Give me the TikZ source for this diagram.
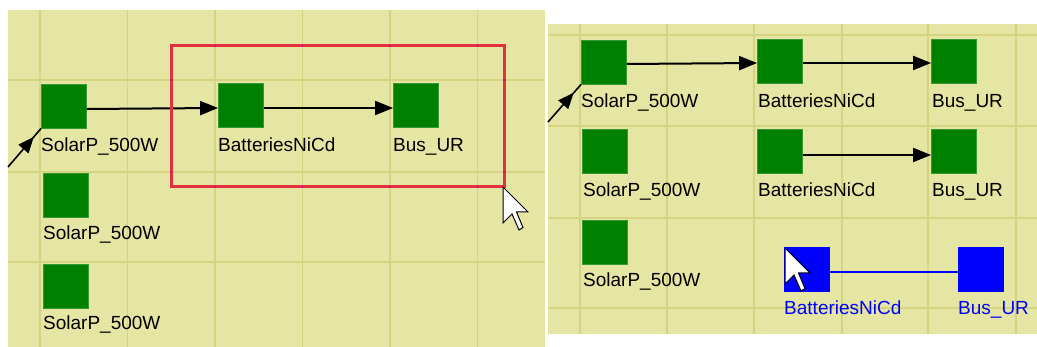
\documentclass[tikz,border=0pt]{standalone}
\usepackage{fontspec}
\setmainfont{Liberation Sans}
\usetikzlibrary{arrows.meta,decorations.markings}
\definecolor{paper}{RGB}{229,229,164}
\definecolor{gridc}{RGB}{214,212,128}
\definecolor{modgreen}{RGB}{0,128,0}
\definecolor{selred}{RGB}{226,48,60}
\newcommand{\lbl}{\fontsize{19}{21}\selectfont}
% mouse pointer with its tip at #1
\newcommand{\pointer}[1]{%
  \draw[cursor] (#1) -- ++(0,36) -- ++(9,-9) -- ++(7,16) -- ++(4,-2.5)
    -- ++(-6.5,-15.5) -- ++(11.5,0) -- cycle;}

\begin{document}
\begin{tikzpicture}[x=1pt,y=-1pt,
   blk/.style={fill=modgreen,draw=modgreen!80!white,line width=0.8pt,
               minimum width=45pt,minimum height=44pt,inner sep=0pt},
   sel/.style={blk,fill=blue,draw=blue},
   tag/.style={anchor=base west,inner sep=0pt,font=\lbl},
   flow/.style={line width=2pt,-{Triangle[length=18pt,width=14pt]}},
   wire/.style={line width=2pt,blue},
   feed/.style={line width=1.6pt,postaction={decorate},
                decoration={markings,mark=at position 0.78 with
                {\arrow{Triangle[length=16pt,width=13pt]}}}},
   gridln/.style={gridc,line width=1.8pt},
   selbox/.style={draw=selred,line width=3pt},
   cursor/.style={fill=white,draw=black,line width=1pt,line join=miter}]
   \useasboundingbox (0,0) rectangle (1037,347);
   \fill[white] (0,0) rectangle (1037,347);

   % left screen: drag selection
   \fill[paper] (8,10) rectangle (545,347);
   \begin{scope}
    \clip (8,10) rectangle (545,347);
    \foreach \x in {40,127.5,215,302.5,390,477.5}
      \draw[gridln] (\x,10) -- (\x,347);
    \foreach \y in {80,172,262}
      \draw[gridln] (8,\y) -- (545,\y);
   \end{scope}

   \node[blk] (solA) at (64,106) {};
   \node[blk] (solB) at (66,195) {};
   \node[blk] (solC) at (66,286) {};
   \node[blk] (batA) at (241,105) {};
   \node[blk] (busA) at (416,105) {};
   \node[tag] (solAt) at (41,152) {SolarP\_500W};
   \node[tag] (solBt) at (43,240) {SolarP\_500W};
   \node[tag] (solCt) at (43,330) {SolarP\_500W};
   \node[tag] (batAt) at (218,152) {BatteriesNiCd};
   \node[tag] (busAt) at (393,152) {Bus\_UR};

   \coordinate (inA) at (8,167);
   \draw[feed] (inA) -- (solA.south west);
   \draw[flow] ([yshift=-3pt]solA.east) -- ([yshift=-3pt]batA.west);
   \draw[flow] ([yshift=-3pt]batA.east) -- ([yshift=-3pt]busA.west);

   \draw[selbox] (171,46) rectangle (504,187);
   \foreach \x in {215,302.5,390,477.5} {
     \fill[magenta] (\x,46) circle (1.2);
     \fill[magenta] (\x,187) circle (1.2);
   }
   \foreach \y in {80,172} {
     \fill[magenta] (171,\y) circle (1.2);
     \fill[magenta] (504,\y) circle (1.2);
   }
   \coordinate (ptrA) at (503,187);
   \pointer{ptrA}

   % right screen: copies pasted
   \fill[paper] (548,24) rectangle (1037,334);
   \begin{scope}
    \clip (548,24) rectangle (1037,334);
    \foreach \x in {580,667,754,842,928,1016}
      \draw[gridln] (\x,24) -- (\x,334);
    \foreach \y in {35,126,218,308}
      \draw[gridln] (548,\y) -- (1037,\y);
   \end{scope}

   \node[blk] (solD) at (604,62) {};
   \node[blk] (solE) at (605,151) {};
   \node[blk] (solF) at (605,242) {};
   \node[blk] (batD) at (780,61) {};
   \node[blk] (busD) at (954,61) {};
   \node[blk] (batE) at (780,151) {};
   \node[blk] (busE) at (954,151) {};
   \node[sel] (batF) at (807,269) {};
   \node[sel] (busF) at (981,269) {};
   \node[tag] (solDt) at (581,108) {SolarP\_500W};
   \node[tag] (solEt) at (583,197) {SolarP\_500W};
   \node[tag] (solFt) at (583,287) {SolarP\_500W};
   \node[tag] (batDt) at (758,108) {BatteriesNiCd};
   \node[tag] (busDt) at (932,108) {Bus\_UR};
   \node[tag] (batEt) at (758,197) {BatteriesNiCd};
   \node[tag] (busEt) at (932,197) {Bus\_UR};
   \node[tag,blue] (batFt) at (784,315) {BatteriesNiCd};
   \node[tag,blue] (busFt) at (958,315) {Bus\_UR};

   \coordinate (inD) at (548,122);
   \draw[feed] (inD) -- (solD.south west);
   \draw[flow] ([yshift=-2pt]solD.east) -- ([yshift=-2pt]batD.west);
   \draw[flow] ([yshift=-2pt]batD.east) -- ([yshift=-2pt]busD.west);
   \draw[flow] ([yshift=-4pt]batE.east) -- ([yshift=-4pt]busE.west);
   \draw[wire] ([yshift=-3pt]batF.east) -- ([yshift=-3pt]busF.west);

   \coordinate (ptrF) at (785,248);
   \pointer{ptrF}
\end{tikzpicture}
\end{document}
